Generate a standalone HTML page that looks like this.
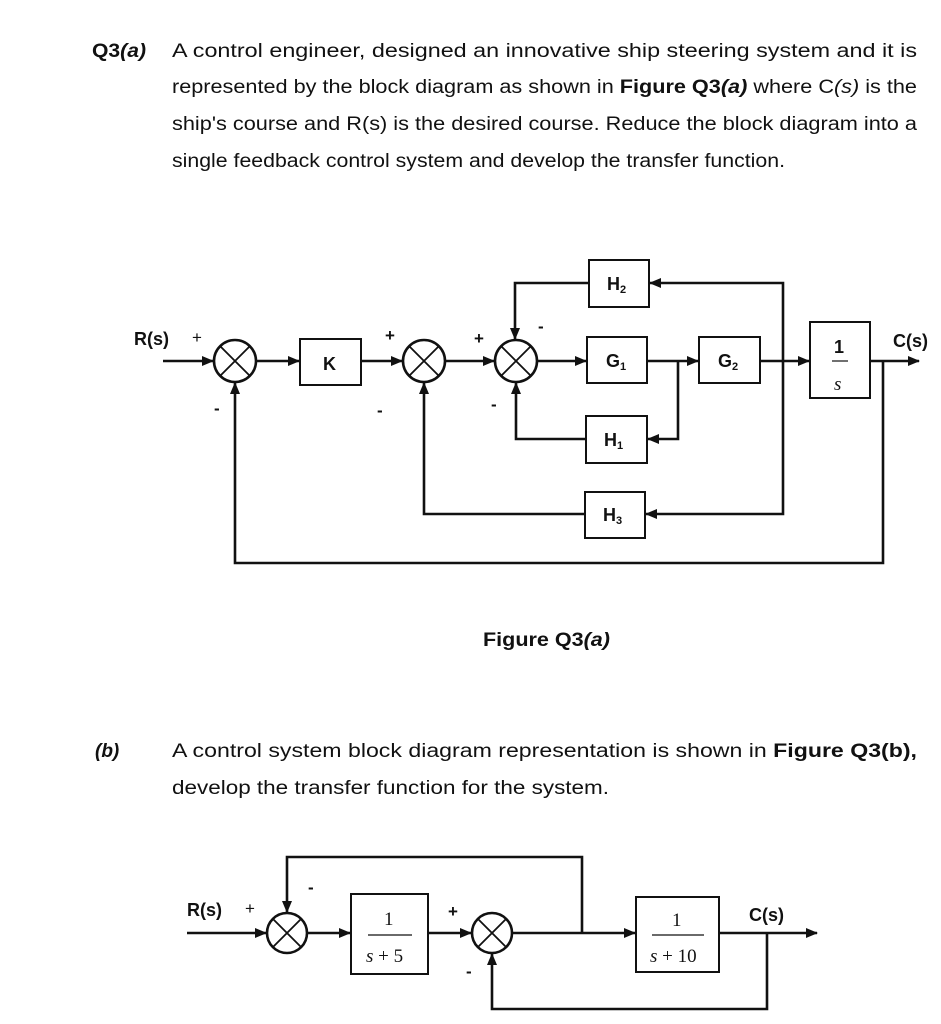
<!DOCTYPE html>
<html><head><meta charset="utf-8"><style>
html,body{margin:0;padding:0;background:#fff;}
svg{display:block;}
text{font-family:"Liberation Sans",Arial,sans-serif;fill:#111;}
.t{font-size:19px;}
.s{font-size:17px;}
.b{font-weight:bold;}
.l{font-size:18px;font-weight:bold;}
.srf{font-family:"Liberation Serif","DejaVu Serif",serif;}
</style></head><body>
<svg width="941" height="1024" viewBox="0 0 941 1024" xmlns="http://www.w3.org/2000/svg">
<defs>
<marker id="a" markerWidth="12" markerHeight="10" refX="11" refY="5" orient="auto" markerUnits="userSpaceOnUse">
<path d="M0,0 L12,5 L0,10 z" fill="#111"/>
</marker>
</defs>
<!-- Text -->
<text class="t b" x="92" y="57" textLength="54" lengthAdjust="spacingAndGlyphs">Q3<tspan font-style="italic">(a)</tspan></text>
<text class="t" x="172" y="57" textLength="745" lengthAdjust="spacingAndGlyphs">A control engineer, designed an innovative ship steering system and it is</text>
<text class="t" x="172" y="93" textLength="745" lengthAdjust="spacingAndGlyphs">represented by the block diagram as shown in <tspan class="b">Figure Q3<tspan font-style="italic">(a)</tspan></tspan>  where C<tspan font-style="italic">(s)</tspan> is the</text>
<text class="t" x="172" y="130" textLength="745" lengthAdjust="spacingAndGlyphs">ship's course and R(s) is the desired course.  Reduce the block diagram into a</text>
<text class="t" x="172" y="167" textLength="613" lengthAdjust="spacingAndGlyphs">single feedback control system and develop the transfer function.</text>
<text class="t b" x="483" y="646" textLength="127" lengthAdjust="spacingAndGlyphs">Figure Q3<tspan font-style="italic">(a)</tspan></text>
<text class="t b" x="95" y="757" font-style="italic">(b)</text>
<text class="t" x="172" y="757" textLength="745" lengthAdjust="spacingAndGlyphs">A control system block diagram representation is shown in <tspan class="b">Figure Q3(b),</tspan></text>
<text class="t" x="172" y="794" textLength="437" lengthAdjust="spacingAndGlyphs">develop the transfer function for the system.</text>

<g stroke="#111" stroke-width="2.6" fill="none">
<!-- Diagram A -->
<circle cx="235" cy="361" r="21"/><path d="M220,346 L250,376 M250,346 L220,376" stroke-width="1.8"/>
<circle cx="424" cy="361" r="21"/><path d="M409,346 L439,376 M439,346 L409,376" stroke-width="1.8"/>
<circle cx="516" cy="361" r="21"/><path d="M501,346 L531,376 M531,346 L501,376" stroke-width="1.8"/>
<rect x="300" y="339" width="61" height="46" stroke-width="2"/>
<rect x="587" y="337" width="60" height="46" stroke-width="2"/>
<rect x="699" y="337" width="61" height="46" stroke-width="2"/>
<rect x="589" y="260" width="60" height="47" stroke-width="2"/>
<rect x="586" y="416" width="61" height="47" stroke-width="2"/>
<rect x="585" y="492" width="60" height="46" stroke-width="2"/>
<rect x="810" y="322" width="60" height="76" stroke-width="2"/>
<path d="M163,361 L213,361" marker-end="url(#a)"/>
<path d="M256,361 L299,361" marker-end="url(#a)"/>
<path d="M361,361 L402,361" marker-end="url(#a)"/>
<path d="M445,361 L494,361" marker-end="url(#a)"/>
<path d="M537,361 L586,361" marker-end="url(#a)"/>
<path d="M647,361 L698,361" marker-end="url(#a)"/>
<path d="M678,361 L678,439 L648,439" marker-end="url(#a)"/>
<path d="M586,439 L516,439 L516,383" marker-end="url(#a)"/>
<path d="M760,361 L809,361" marker-end="url(#a)"/>
<path d="M783,361 L783,283 L650,283" marker-end="url(#a)"/>
<path d="M783,361 L783,514 L646,514" marker-end="url(#a)"/>
<path d="M589,283 L515,283 L515,339" marker-end="url(#a)"/>
<path d="M585,514 L424,514 L424,383" marker-end="url(#a)"/>
<path d="M870,361 L919,361" marker-end="url(#a)"/>
<path d="M883,361 L883,563 L235,563 L235,383" marker-end="url(#a)"/>
<path d="M832,361 L848,361" stroke-width="1.2"/>

<!-- Diagram B -->
<circle cx="287" cy="933" r="20"/><path d="M273,919 L301,947 M301,919 L273,947" stroke-width="1.8"/>
<circle cx="492" cy="933" r="20"/><path d="M478,919 L506,947 M506,919 L478,947" stroke-width="1.8"/>
<rect x="351" y="894" width="77" height="80" stroke-width="2"/>
<rect x="636" y="897" width="83" height="75" stroke-width="2"/>
<path d="M187,933 L266,933" marker-end="url(#a)"/>
<path d="M307,933 L350,933" marker-end="url(#a)"/>
<path d="M428,933 L471,933" marker-end="url(#a)"/>
<path d="M512,933 L635,933" marker-end="url(#a)"/>
<path d="M582,933 L582,857 L287,857 L287,912" marker-end="url(#a)"/>
<path d="M719,933 L817,933" marker-end="url(#a)"/>
<path d="M767,933 L767,1009 L492,1009 L492,954" marker-end="url(#a)"/>
<path d="M368,935 L412,935" stroke-width="1.2"/>
<path d="M652,935 L704,935" stroke-width="1.2"/>
</g>

<!-- Diagram labels A -->
<text class="l" x="134" y="345">R(s)</text>
<text class="s" x="192" y="343">+</text>
<text class="s b" x="214" y="414">-</text>
<text class="s b" x="385" y="341">+</text>
<text class="s b" x="377" y="416">-</text>
<text class="s b" x="474" y="344">+</text>
<text class="s b" x="491" y="410">-</text>
<text class="s b" x="538" y="332">-</text>
<text class="l" x="323" y="370" font-size="19">K</text>
<text class="l" x="606" y="367">G<tspan font-size="11" dy="3">1</tspan></text>
<text class="l" x="718" y="367">G<tspan font-size="11" dy="3">2</tspan></text>
<text class="l" x="607" y="290">H<tspan font-size="11" dy="3">2</tspan></text>
<text class="l" x="604" y="446">H<tspan font-size="11" dy="3">1</tspan></text>
<text class="l" x="603" y="521">H<tspan font-size="11" dy="3">3</tspan></text>
<text class="l" x="834" y="353">1</text>
<text class="srf" x="834" y="390" font-size="19" font-style="italic">s</text>
<text class="l" x="893" y="347">C(s)</text>

<!-- Diagram labels B -->
<text class="l" x="187" y="916">R(s)</text>
<text class="s" x="245" y="914">+</text>
<text class="s b" x="308" y="893">-</text>
<text class="s b" x="448" y="917">+</text>
<text class="s b" x="466" y="977">-</text>
<text class="l" x="749" y="921">C(s)</text>
<text class="srf" x="384" y="925" font-size="19">1</text>
<text class="srf" x="366" y="962" font-size="19"><tspan font-style="italic">s</tspan> + 5</text>
<text class="srf" x="672" y="926" font-size="19">1</text>
<text class="srf" x="650" y="962" font-size="19"><tspan font-style="italic">s</tspan> + 10</text>
</svg>
</body></html>
